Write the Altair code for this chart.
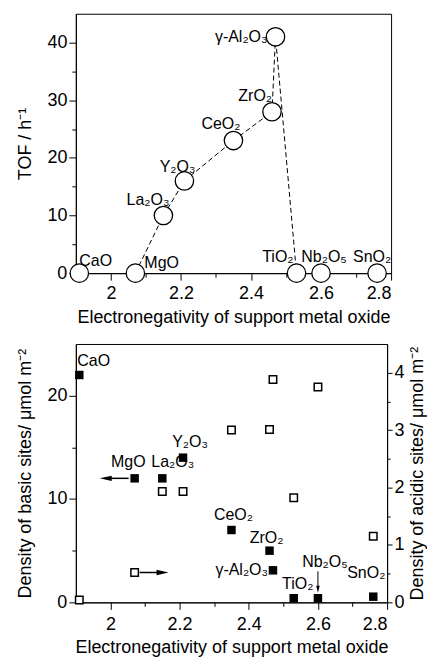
import altair as alt
import pandas as pd

# ---------------- data ----------------
oxides = ["CaO", "MgO", "La₂O₃", "Y₂O₃", "CeO₂", "ZrO₂", "γ-Al₂O₃", "TiO₂", "Nb₂O₅", "SnO₂"]
electronegativity = [1.91, 2.07, 2.15, 2.21, 2.35, 2.46, 2.47, 2.53, 2.60, 2.76]
tof = [0, 0, 10, 16, 23, 28, 41, 0, 0, 0]
basic_density = [22, 12, 12, 14, 7, 5, 3.1, 0.4, 0.4, 0.55]
acid_density = [0.04, 0.52, 1.93, 1.93, 3.0, 3.01, 3.88, 1.82, 3.75, 1.15]
trend_members = ["MgO", "La₂O₃", "Y₂O₃", "CeO₂", "ZrO₂", "γ-Al₂O₃", "TiO₂"]

x_ticks = [2.0, 2.1, 2.2, 2.3, 2.4, 2.5, 2.6, 2.7, 2.8]
tof_ticks = [0, 5, 10, 15, 20, 25, 30, 35, 40]
basic_ticks = [0, 5, 10, 15, 20]
acid_ticks = [0, 0.5, 1, 1.5, 2, 2.5, 3, 3.5, 4]

df = pd.DataFrame({
    "oxide": oxides,
    "en": electronegativity,
    "tof": tof,
    "basic": basic_density,
    "acid": acid_density,
})
df["trend"] = df["oxide"].isin(trend_members)

FONT = "Liberation Sans"
ANN = 16

x_title = "Electronegativity of support metal oxide"


def make_x(label_pad, title_pad):
    return alt.X(
        "en:Q",
        scale=alt.Scale(domain=[1.9, 2.8], nice=False, zero=False),
        axis=alt.Axis(
            values=x_ticks,
            labelExpr="round(datum.value*10) % 2 == 0 ? format(datum.value, '~g') : ''",
            tickSize={"condition": {"test": "round(datum.value*10) % 2 == 0", "value": 7}, "value": 4},
            title=x_title,
            titlePadding=title_pad,
            labelPadding=label_pad,
        ),
    )


x_top = make_x(4, 6)
x_bot = make_x(6, 5)

# ---------------- top chart ----------------
y_tof = alt.Y(
    "tof:Q",
    scale=alt.Scale(domain=[0, 45], nice=False),
    axis=alt.Axis(
        values=tof_ticks,
        labelExpr="datum.value % 10 == 0 ? format(datum.value, 'd') : ''",
        tickSize={"condition": {"test": "datum.value % 10 == 0", "value": 7}, "value": 4},
        title="TOF / h⁻¹",
        titlePadding=12,
        labelPadding=2,
    ),
)

base_top = alt.Chart(df)

trend_line = base_top.transform_filter("datum.trend").mark_line(
    color="black", strokeWidth=1, strokeDash=[5, 3]
).encode(x=x_top, y=y_tof, order="en:Q")

circles = base_top.mark_point(
    shape="circle", filled=True, fill="white", stroke="black",
    strokeWidth=1.3, size=340, opacity=1
).encode(x=x_top, y=y_tof)

top_label_pos = {
    "CaO": ("left", 0, -12),
    "MgO": ("left", 9, -10),
    "La₂O₃": ("right", 6, -16),
    "Y₂O₃": ("right", 11, -14),
    "CeO₂": ("right", 7, -17),
    "ZrO₂": ("right", 0, -16),
    "γ-Al₂O₃": ("right", -8, 0),
    "TiO₂": ("right", -3, -16),
    "Nb₂O₅": ("center", 3, -16),
    "SnO₂": ("center", -5, -16),
}


def label_layers(base, pos, x_enc, y_enc):
    layers = []
    for name, (align, dx, dy) in pos.items():
        layers.append(
            base.transform_filter(alt.datum.oxide == name).mark_text(
                align=align, baseline="middle", dx=dx, dy=dy,
                font=FONT, fontSize=ANN, color="black"
            ).encode(x=x_enc, y=y_enc, text="oxide:N")
        )
    return layers


top = alt.layer(trend_line, circles, *label_layers(base_top, top_label_pos, x_top, y_tof)).properties(
    width=316, height=260
)

# ---------------- bottom chart ----------------
y_basic = alt.Y(
    "basic:Q",
    scale=alt.Scale(domain=[0, 25], nice=False),
    axis=alt.Axis(
        orient="left",
        values=basic_ticks,
        labelExpr="datum.value % 10 == 0 ? format(datum.value, 'd') : ''",
        tickSize={"condition": {"test": "datum.value % 10 == 0", "value": 7}, "value": 4},
        title="Density of basic sites/ μmol m⁻²",
        titlePadding=12,
        labelPadding=2,
    ),
)
y_acid = alt.Y(
    "acid:Q",
    scale=alt.Scale(domain=[0, 4.5], nice=False),
    axis=alt.Axis(
        orient="right",
        values=acid_ticks,
        labelExpr="datum.value % 1 == 0 ? format(datum.value, 'd') : ''",
        tickSize={"condition": {"test": "datum.value % 1 == 0", "value": 5}, "value": 3},
        title="Density of acidic sites/ μmol m⁻²",
        titleAngle=270,
        titleBaseline="top",
        titlePadding=4,
        labelPadding=2,
    ),
)

base_bot = alt.Chart(df)

filled_sq = base_bot.mark_point(
    shape="square", filled=True, color="black", size=72, opacity=1
).encode(x=x_bot, y=y_basic)

bottom_label_pos = {
    "CaO": ("left", -2, -14),
    "MgO": ("right", 11, -16),
    "La₂O₃": ("left", -11, -16),
    "Y₂O₃": ("center", 7, -16),
    "CeO₂": ("center", 2, -15),
    "ZrO₂": ("center", -3, -13),
    "γ-Al₂O₃": ("right", -5, 0),
    "TiO₂": ("center", 4, -14),
    "Nb₂O₅": ("center", 7, -36),
    "SnO₂": ("center", -7, -24),
}

mgo = base_bot.transform_filter(alt.datum.oxide == "MgO")
nb = base_bot.transform_filter(alt.datum.oxide == "Nb₂O₅")

left_arrow_line = mgo.mark_rule(color="black", strokeWidth=1.5, xOffset=-6, x2Offset=-30).encode(
    x=x_bot, x2=alt.X2("en:Q"), y=y_basic
)
left_arrow_head = mgo.mark_point(
    shape="M -1 0 L 1 -0.45 L 1 0.45 Z", filled=True, color="black", size=144, opacity=1, xOffset=-29
).encode(x=x_bot, y=y_basic)

nb_arrow_line = nb.mark_rule(color="black", strokeWidth=1, yOffset=-27, y2Offset=-9).encode(
    x=x_bot, y=y_basic, y2=alt.Y2("basic:Q")
)
nb_arrow_head = nb.mark_point(
    shape="M 0 1 L -0.5 -1 L 0.5 -1 Z", filled=True, color="black", size=49, opacity=1, yOffset=-9
).encode(x=x_bot, y=y_basic)

left_group = alt.layer(
    filled_sq, left_arrow_line, left_arrow_head, nb_arrow_line, nb_arrow_head,
    *label_layers(base_bot, bottom_label_pos, x_bot, y_basic)
)

open_sq = base_bot.mark_point(
    shape="square", filled=True, fill="white", stroke="black", strokeWidth=1.5, size=56, opacity=1
).encode(x=x_bot, y=y_acid)

mgo_acid = base_bot.transform_filter(alt.datum.oxide == "MgO")
right_arrow_line = mgo_acid.mark_rule(color="black", strokeWidth=1.5, xOffset=5, x2Offset=28).encode(
    x=x_bot, x2=alt.X2("en:Q"), y=y_acid
)
right_arrow_head = mgo_acid.mark_point(
    shape="M 1 0 L -1 -0.45 L -1 0.45 Z", filled=True, color="black", size=144, opacity=1, xOffset=28
).encode(x=x_bot, y=y_acid)

right_group = alt.layer(open_sq, right_arrow_line, right_arrow_head)

bottom = alt.layer(left_group, right_group).resolve_scale(y="independent").properties(
    width=312, height=259
)

chart = alt.vconcat(top, bottom, spacing=16).properties(
    padding={"left": 8, "top": 4, "right": 0, "bottom": 0},
    background="white",
).configure_view(
    stroke="black", strokeWidth=1
).configure_axis(
    grid=False,
    domainColor="black",
    tickColor="black",
    labelColor="black",
    titleColor="black",
    labelFont=FONT,
    titleFont=FONT,
    labelFontSize=18,
    titleFontSize=18,
    titleFontWeight="normal",
    domainWidth=1,
    tickWidth=1,
)

chart.save("out.html", embed_options={"renderer": "svg", "actions": False})
